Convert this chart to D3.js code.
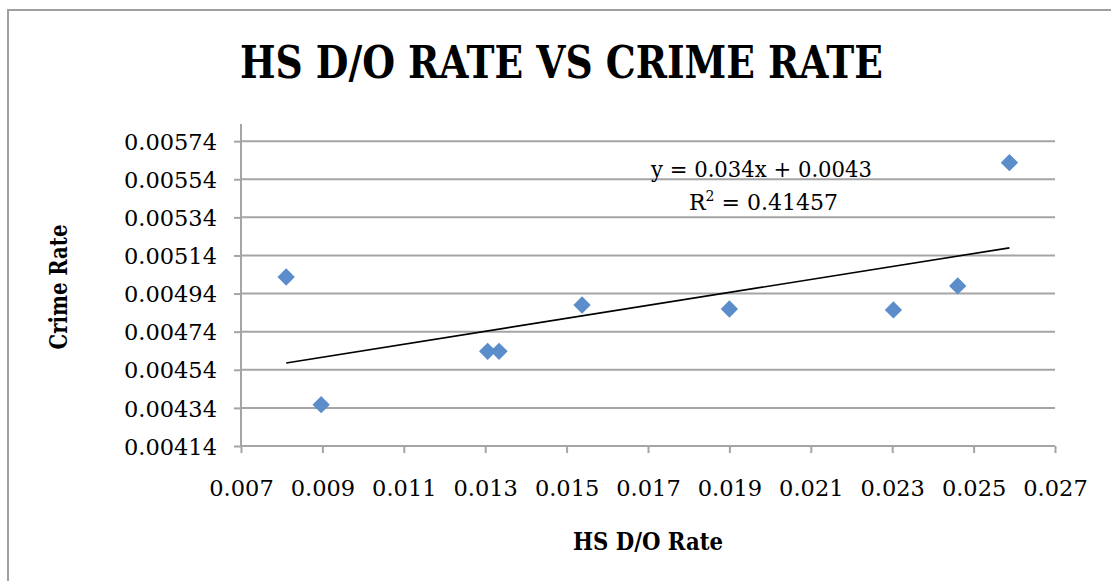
<!DOCTYPE html>
<html>
<head>
<meta charset="utf-8">
<script src="https://cdn.jsdelivr.net/npm/d3@7"></script>
<style>
  html, body { margin: 0; padding: 0; background: #fff; }
  svg { display: block; }
</style>
</head>
<body>
<svg id="chart" width="1111" height="581"></svg>
<script>
// Drop-out rate vs crime rate, one point per observation
const dropoutRate = [0.00811, 0.00897, 0.01306, 0.01334, 0.01538, 0.01900, 0.02303, 0.02461, 0.02588];
const crimeRate   = [0.005027, 0.004357, 0.004637, 0.004637, 0.004880, 0.004859, 0.004854, 0.004980, 0.005627];

const xTicks = [0.007, 0.009, 0.011, 0.013, 0.015, 0.017, 0.019, 0.021, 0.023, 0.025, 0.027];
const yTicks = [0.00414, 0.00434, 0.00454, 0.00474, 0.00494, 0.00514, 0.00534, 0.00554, 0.00574];

// Linear trend reported on the chart
const trendSlope = 0.034;
const trendIntercept = 0.0043;
const trendLabel = "y = 0.034x + 0.0043";
const r2Value = "0.41457";

const titleText = "HS D/O RATE VS CRIME RATE";
const xTitle = "HS D/O Rate";
const yTitle = "Crime Rate";

const svg = d3.select("#chart");
const serif = "'DejaVu Serif', serif";
const gridColor = "#a5a5a5";

const plot = { left: 241, right: 1055, top: 124, bottom: 446 };

const x = d3.scaleLinear().domain([0.007, 0.027]).range([plot.left, plot.right]);
const y = d3.scaleLinear().domain([0.00414, 0.00583]).range([plot.bottom, plot.top]);

// outer chart frame
svg.append("rect")
  .attr("x", 8).attr("y", 10).attr("width", 1110).attr("height", 580)
  .attr("fill", "none").attr("stroke", "#a0a0a0").attr("stroke-width", 2);

// title
svg.append("text")
  .attr("x", 240).attr("y", 78)
  .attr("textLength", 643).attr("lengthAdjust", "spacingAndGlyphs")
  .attr("font-family", serif).attr("font-weight", "bold").attr("font-size", 44)
  .attr("fill", "#000").text(titleText);

// horizontal gridlines
svg.append("g").selectAll("line").data(yTicks.slice(1)).join("line")
  .attr("x1", plot.left).attr("x2", plot.right)
  .attr("y1", d => y(d)).attr("y2", d => y(d))
  .attr("stroke", gridColor).attr("stroke-width", 2);

// y axis
const yAxis = svg.append("g")
  .attr("transform", `translate(${plot.left},0)`)
  .call(d3.axisLeft(y).tickValues(yTicks).tickSize(7).tickPadding(17)
        .tickFormat(d3.format(".5f")));
yAxis.select(".domain").attr("stroke", gridColor).attr("stroke-width", 2)
  .attr("d", `M0,${plot.top}V${plot.bottom}`);
yAxis.selectAll(".tick line").attr("stroke", gridColor).attr("stroke-width", 2);
yAxis.selectAll(".tick text")
  .attr("font-family", serif).attr("font-size", 22.5).attr("fill", "#000")
  .attr("dy", "0.36em");

// x axis
const xAxis = svg.append("g")
  .attr("transform", `translate(0,${plot.bottom})`)
  .call(d3.axisBottom(x).tickValues(xTicks).tickSize(7).tickPadding(27)
        .tickFormat(d3.format(".3f")));
xAxis.select(".domain").attr("stroke", gridColor).attr("stroke-width", 2)
  .attr("d", `M${plot.left},0H${plot.right}`);
xAxis.selectAll(".tick line").attr("stroke", gridColor).attr("stroke-width", 2);
xAxis.selectAll(".tick text")
  .attr("font-family", serif).attr("font-size", 22.5).attr("fill", "#000")
  .attr("dy", "0.71em");

// axis titles
svg.append("text")
  .attr("x", 648).attr("y", 550).attr("text-anchor", "middle")
  .attr("textLength", 150).attr("lengthAdjust", "spacingAndGlyphs")
  .attr("font-family", serif).attr("font-weight", "bold").attr("font-size", 24)
  .text(xTitle);

svg.append("text")
  .attr("transform", "translate(67,287) rotate(-90)")
  .attr("text-anchor", "middle")
  .attr("textLength", 125).attr("lengthAdjust", "spacingAndGlyphs")
  .attr("font-family", serif).attr("font-weight", "bold").attr("font-size", 24)
  .text(yTitle);

// trend line across the observed x range
const [xMin, xMax] = d3.extent(dropoutRate);
svg.append("line")
  .attr("x1", x(xMin)).attr("y1", y(trendSlope * xMin + trendIntercept))
  .attr("x2", x(xMax)).attr("y2", y(trendSlope * xMax + trendIntercept))
  .attr("stroke", "#000").attr("stroke-width", 1.6);

// diamond markers
const diamond = d3.symbol().type(d3.symbolSquare).size(150);
svg.append("g").selectAll("path").data(d3.range(dropoutRate.length)).join("path")
  .attr("d", diamond)
  .attr("transform", i => `translate(${x(dropoutRate[i])},${y(crimeRate[i])}) rotate(45)`)
  .attr("fill", "#5b8dcb");

// trendline equation and R²
svg.append("text")
  .attr("x", 651).attr("y", 177)
  .attr("textLength", 221).attr("lengthAdjust", "spacingAndGlyphs")
  .attr("font-family", serif).attr("font-size", 22).text(trendLabel);

const r2 = svg.append("text")
  .attr("x", 689).attr("y", 210)
  .attr("font-family", serif).attr("font-size", 22);
r2.append("tspan").text("R");
r2.append("tspan").attr("font-size", 14).attr("dy", -9).text("2");
r2.append("tspan").attr("dy", 9).text(" = " + r2Value);
</script>
</body>
</html>
